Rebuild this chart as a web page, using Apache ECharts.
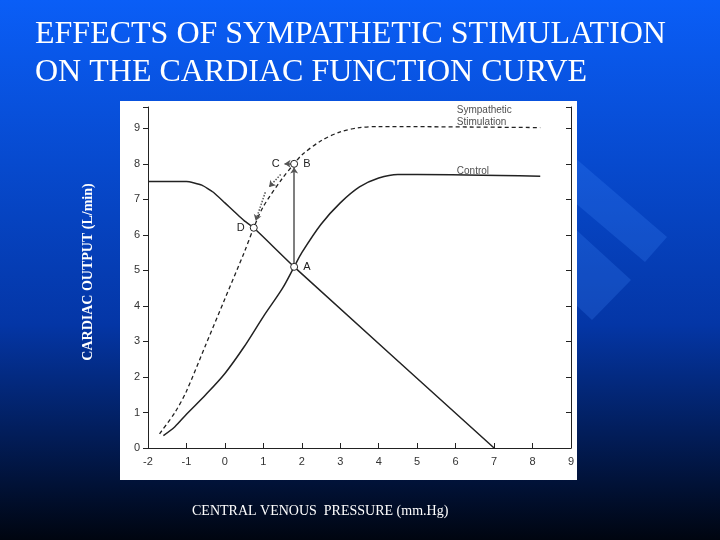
<!DOCTYPE html>
<html><head><meta charset="utf-8">
<script src="https://cdn.jsdelivr.net/npm/echarts@6/dist/echarts.min.js"></script>
<style>html,body{margin:0;padding:0}#c{width:720px;height:540px}</style>
</head><body><div id="c"></div>
<script>
// cardiac function curves (x = CVP mmHg, y = L/min)
var controlCurve = [[-1.6,0.35],[-1.3,0.6],[-1,0.95],[-0.5,1.5],[0,2.1],[0.5,2.85],[1,3.7],[1.5,4.5],[1.8,5.1],[2,5.5],[2.5,6.3],[3,6.9],[3.5,7.35],[4,7.6],[4.5,7.7],[5,7.7],[8.2,7.65]];
var sympCurve = [[-1.7,0.4],[-1.3,1.0],[-1,1.6],[-0.5,2.9],[0,4.2],[0.5,5.5],[0.75,6.2],[1,6.8],[1.5,7.6],[1.8,8.0],[2,8.25],[2.5,8.65],[3,8.9],[3.5,9.02],[4,9.05],[8.2,9.02]];
var venousReturn = [[-2,7.5],[-1,7.5],[-0.6,7.4],[-0.3,7.2],[0,6.9],[0.5,6.4],[0.75,6.2],[1.8,5.1],[7,0]];
var pointNames = ['A','B','C','D'];
var pointXY = [[1.8,5.1],[1.8,8.0],[1.5,8.0],[0.75,6.2]];

var chart = echarts.init(document.getElementById('c'));
var ink = '#222';
function intOnly(v){ return Math.abs(v-Math.round(v))<1e-6 ? String(Math.round(v)) : ''; }
chart.setOption({
  animation: false,
  backgroundColor: new echarts.graphic.LinearGradient(0,0,0,1,[
    {offset:0,color:'#0a5ef7'},{offset:0.6,color:'#0436a6'},{offset:1,color:'#000510'}]),
  graphic: [
    {type:'polygon',shape:{points:[[560,145],[667,237],[645,262],[560,190]]},style:{fill:'rgba(70,140,255,0.22)'},z:-2},
    {type:'polygon',shape:{points:[[560,215],[631,280],[592,320],[560,290]]},style:{fill:'rgba(70,140,255,0.22)'},z:-2},
    {type:'rect',shape:{x:120,y:101,width:457,height:379},style:{fill:'#fff'},z:-1},
    {type:'text',left:35,top:16,style:{text:'EFFECTS OF SYMPATHETIC STIMULATION\nON THE CARDIAC FUNCTION CURVE',fill:'#fff',font:'32px "Liberation Serif"',lineHeight:38}},
    {type:'text',x:88,y:272,rotation:Math.PI/2,style:{text:'CARDIAC OUTPUT (L/min)',fill:'#fff',font:'bold 14px "Liberation Serif"',align:'center',verticalAlign:'middle'}},
    {type:'text',left:192,top:504,style:{text:'CENTRAL VENOUS  PRESSURE (mm.Hg)',fill:'#fff',font:'14px "Liberation Serif"'}}
  ],
  grid: {left:148, right:149, top:107, bottom:92},
  xAxis: {type:'value', min:-2, max:9, interval:1,
    axisLine:{onZero:false,lineStyle:{color:ink}}, axisTick:{inside:true,lineStyle:{color:ink}},
    splitLine:{show:false},
    axisLabel:{color:'#333',fontSize:11,margin:8}},
  yAxis: [
    {type:'value', min:0, max:9.6, interval:1,
      axisLine:{show:true,onZero:false,lineStyle:{color:ink}}, axisTick:{show:true,lineStyle:{color:ink}},
      splitLine:{show:false}, axisLabel:{color:'#333',fontSize:11,margin:8,formatter:intOnly}},
    {type:'value', min:0, max:9.6, interval:1, position:'right',
      axisLine:{show:true,onZero:false,lineStyle:{color:ink}}, axisTick:{show:true,inside:true,lineStyle:{color:ink}},
      splitLine:{show:false}, axisLabel:{show:false}}
  ],
  series: [
    {type:'line', data:controlCurve, smooth:0.3, showSymbol:false, lineStyle:{color:ink,width:1.5}},
    {type:'line', data:sympCurve, smooth:0.3, showSymbol:false, lineStyle:{color:ink,width:1.3,type:[4,3]}},
    {type:'line', data:venousReturn, smooth:0.15, showSymbol:false, lineStyle:{color:ink,width:1.5},
      markLine:{silent:true, symbol:['none','arrow'], symbolSize:6, label:{show:false},
        lineStyle:{color:'#555',type:'solid',width:1.5},
        data:[
          [{coord:[1.8,5.15]},{coord:[1.8,7.9]}],
          [{coord:[1.75,8.0]},{coord:[1.55,8.0]}],
          [{coord:[1.45,7.7]},{coord:[1.15,7.35],lineStyle:{type:'dotted'}}],
          [{coord:[1.05,7.2]},{coord:[0.8,6.4],lineStyle:{type:'dotted'}}]
        ]}},
    {type:'scatter', symbol:'circle', symbolSize:7, z:5,
      itemStyle:{color:'#fff',borderColor:ink,borderWidth:1,opacity:1},
      data:pointXY.map(function(p,i){return {value:p,name:pointNames[i],
        symbolSize:i===2?0:7,
        label:{show:true,formatter:pointNames[i],position:(i===2||i===3)?'left':'right',color:ink,fontSize:11,
          offset:i===2?[2,0]:[0,0]}};})},
    {type:'scatter', symbolSize:0, data:[
      {value:[5.9,9.35],label:{show:true,position:'right',formatter:'Sympathetic\nStimulation',color:ink,fontSize:10,lineHeight:12}},
      {value:[5.9,7.8],label:{show:true,position:'right',formatter:'Control',color:ink,fontSize:10}}]}
  ]
});
</script></body></html>
